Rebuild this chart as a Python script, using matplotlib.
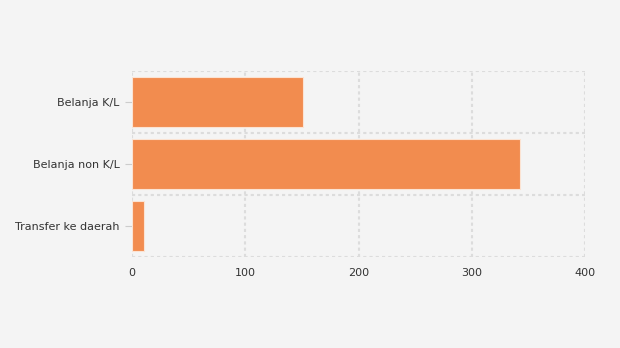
import matplotlib.pyplot as plt
import numpy as np

categories = ["Belanja K/L", "Belanja non K/L", "Transfer ke daerah"]
values = [151, 342.6, 10.6]
x_ticks = [0, 100, 200, 300, 400]

bg = "#f4f4f4"
bar_color = "#f28c4f"
grid_color = "#dcdcdc"

fig = plt.figure(figsize=(6.2, 3.48), dpi=100, facecolor=bg)
ax = fig.add_axes([132 / 620, 91 / 348, 453 / 620, 186 / 348], facecolor=bg)

pos = np.arange(len(categories))
ax.barh(pos, values, height=0.8, color=bar_color, edgecolor="#fbe3d3",
        linewidth=0.8, zorder=3)

ax.set_xlim(0, 400)
ax.set_ylim(len(categories) - 0.5, -0.5)
ax.set_xticks(x_ticks)
ax.set_yticks(pos)
ax.set_yticklabels(categories)
ax.set_yticks(np.arange(-0.5, len(categories), 1.0), minor=True)

ax.grid(axis="x", which="major", color=grid_color, linestyle=(0, (1.5, 1.5)),
        linewidth=1.5, zorder=1)
ax.grid(axis="y", which="minor", color=grid_color, linestyle=(0, (1.5, 1.5)),
        linewidth=1.5, zorder=1)
ax.grid(axis="y", which="major", visible=False)

for s in ax.spines.values():
    s.set_visible(False)

ax.tick_params(axis="x", length=0, pad=8, labelsize=8, labelcolor="#333333")
ax.tick_params(axis="y", which="major", length=5, width=0.8, color="#cccccc",
               pad=4, labelsize=8, labelcolor="#333333")
ax.tick_params(axis="y", which="minor", length=0)

fig.savefig("out.png", dpi=100, facecolor=bg)
